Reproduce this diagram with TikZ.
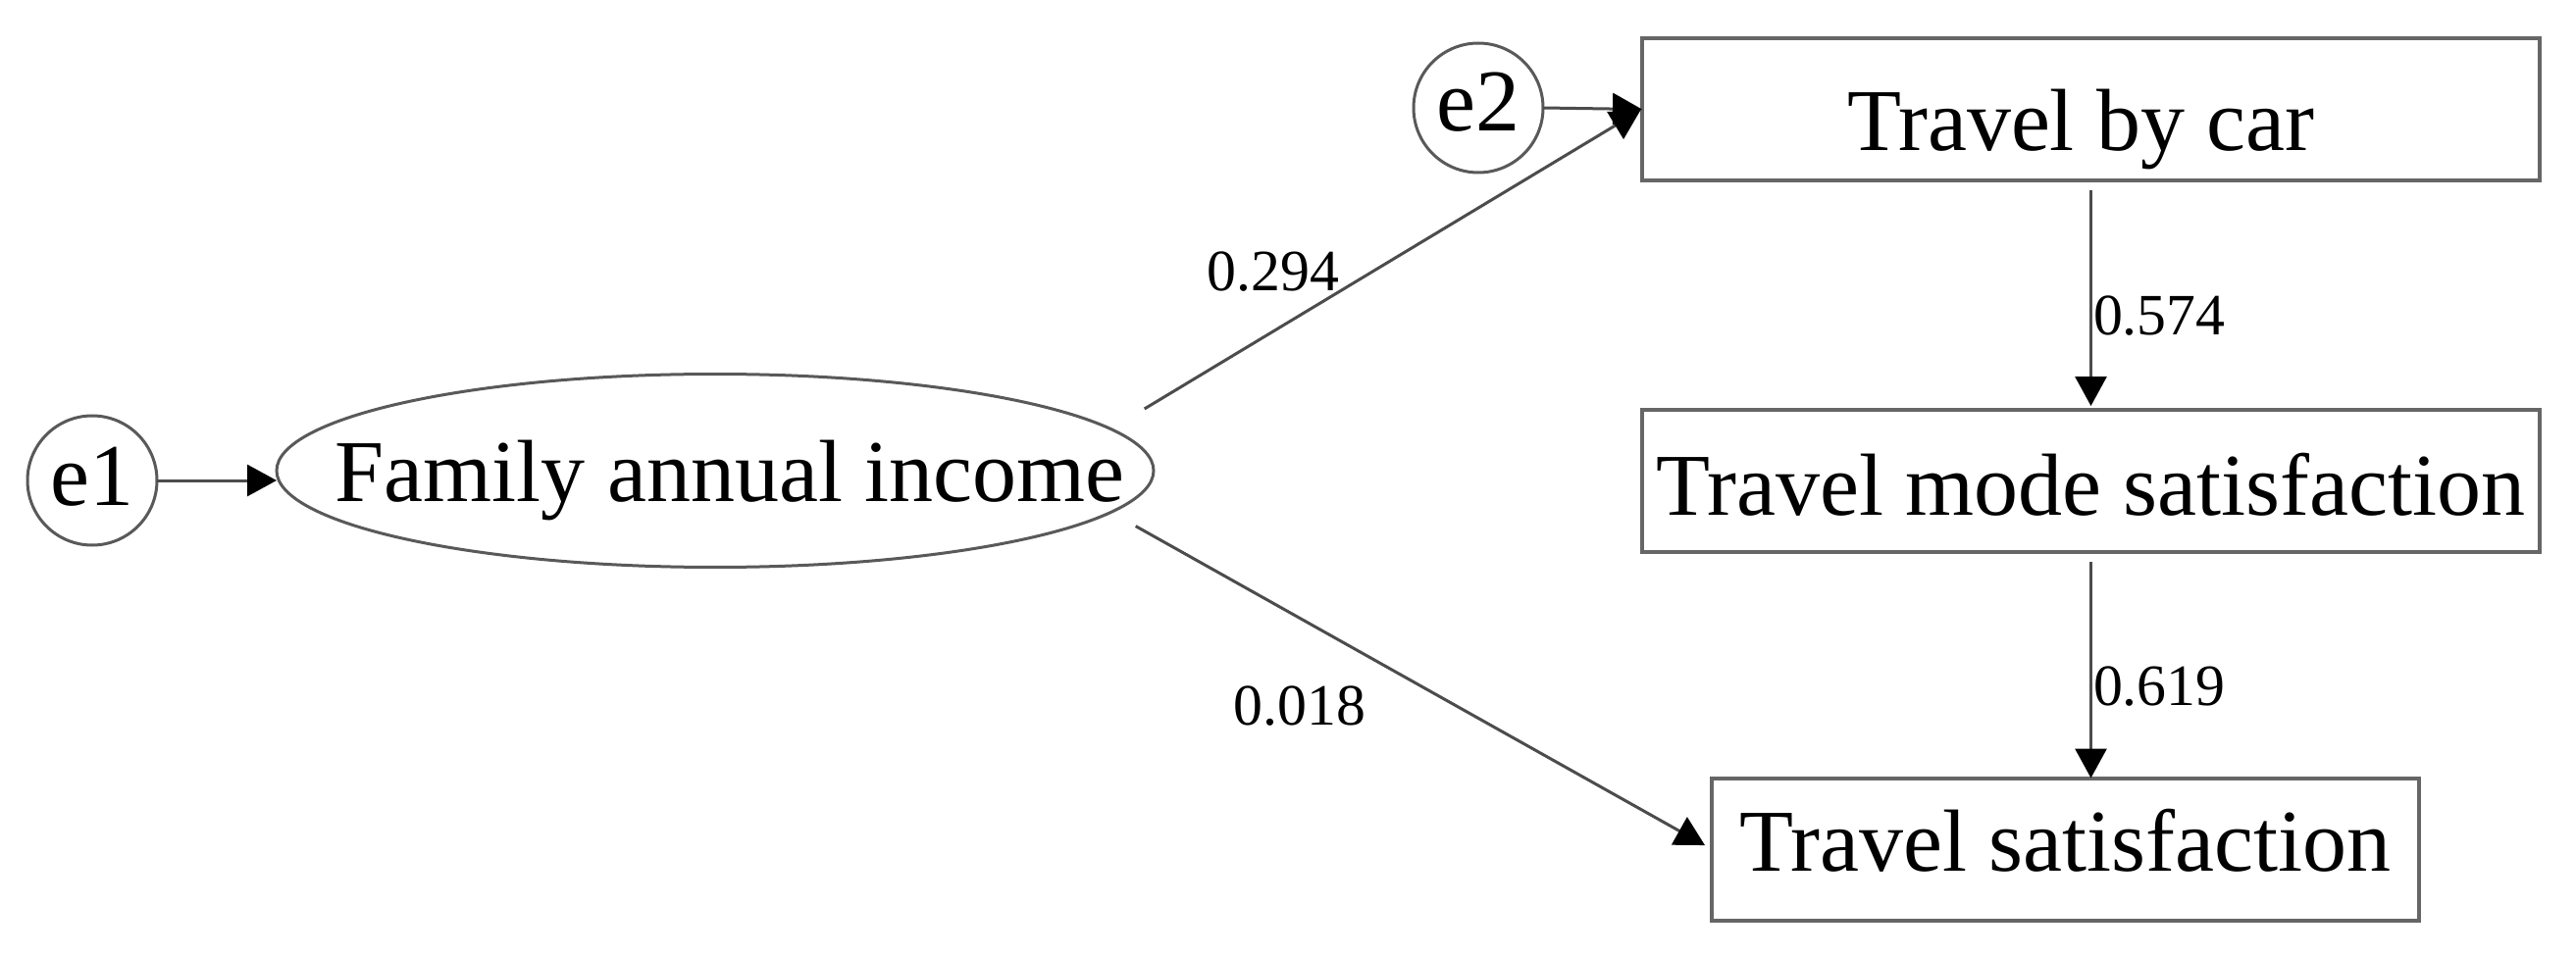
\documentclass[tikz,border=0pt]{standalone}
\usepackage{fontspec}
\setmainfont{Liberation Serif}
\usetikzlibrary{arrows.meta,shapes.geometric,calc}
\begin{document}
\begin{tikzpicture}[x=0.1mm,y=-0.1mm,
  every node/.style={inner sep=0pt, outer sep=0pt},
  big/.style={font=\fontsize{25.6}{30}\selectfont, text depth=0pt},
  lab/.style={font=\fontsize{17}{20}\selectfont},
  errc/.style={big, circle, draw=black!65, line width=0.3mm, minimum size=13.2mm},
  latent/.style={ellipse, draw=black!65, line width=0.3mm, minimum width=89.4mm, minimum height=19.7mm},
  obs/.style={big, rectangle, draw=black!60, line width=0.4mm, minimum height=14.5mm},
  arr/.style={draw=black!70, line width=0.3mm, -{Triangle[length=3mm,width=3.2mm,black]}}
]
\useasboundingbox (0,0) rectangle (2626,975);
\node[errc, text height=5.2mm] (e1) at (94,490) {e1};
\node[latent, label={[big, text height=6.3mm, xshift=1.5mm]center:Family annual income}] (fai) at (729,480) {};
\node[errc, text height=4.8mm] (e2) at (1507,110) {e2};
\node[obs, minimum width=91.5mm, text height=8.5mm] (tbc) at (2131.5,111.5) {\hspace*{-2mm}Travel by car};
\node[obs, minimum width=91.5mm, text height=7mm] (tms) at (2131.5,490.5) {Travel mode satisfaction};
\node[obs, minimum width=72.1mm, text height=4.4mm] (ts) at (2105.5,866) {Travel satisfaction};

\draw[arr] (e1.east) -- (e1.east -| fai.west);
\draw[arr] (e2.east) -- (tbc.west);
\draw[arr, shorten <=4mm, shorten >=0.2mm] (fai.6) -- (tbc.west);
\draw[arr, shorten <=2.9mm, shorten >=0.8mm] (fai.-6.5) -- (ts.west);
\draw[arr, shorten <=1mm, shorten >=0.4mm] (tbc.south) -- (tms.north);
\draw[arr, shorten <=1mm] (tms.south) -- (tms.south |- ts.north);

\node[lab] (l1) at (1298,277) {0.294};
\node[lab] (l2) at (1325,720) {0.018};
\node[lab, anchor=west] (l3) at (2134,322) {0.574};
\node[lab, anchor=west] (l4) at (2134,700) {0.619};
\end{tikzpicture}
\end{document}
